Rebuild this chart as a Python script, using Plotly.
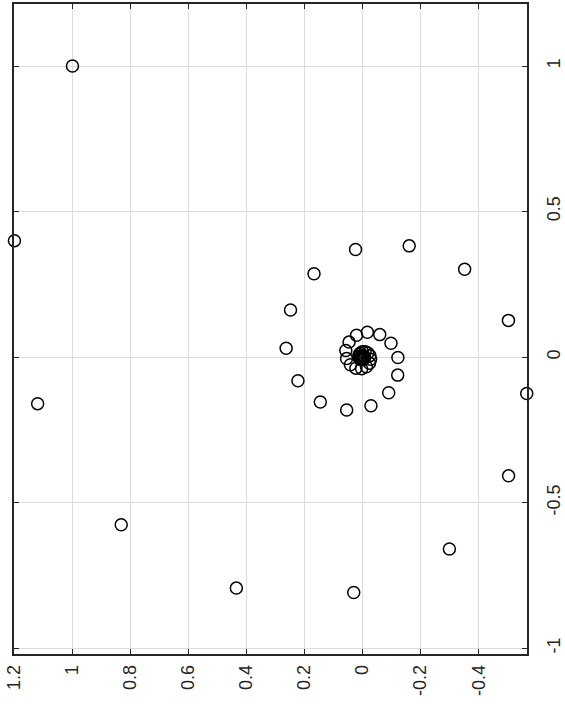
import plotly.graph_objects as go

# Points of the spiral (horizontal value, vertical value)
h_vals = [1.0, 1.2, 1.12, 0.832, 0.4352, 0.0307, -0.2990, -0.5030, -0.5656, -0.5025,
          -0.3516, -0.1605, 0.0244, 0.1675, 0.2485, 0.2636, 0.2229, 0.1458, 0.0550, -0.0287,
          -0.0899, -0.1209, -0.1215, -0.0977, -0.0591, -0.0164, 0.0210, 0.0468, 0.0580, 0.0554,
          0.0422, 0.0232, 0.0034, -0.0131, -0.0237, -0.0275, -0.0250, -0.0180, -0.0088, 0.0003,
          0.0076, 0.0118, 0.0129, 0.0111, 0.0075, 0.0031, -0.0010, -0.0041, -0.0058, -0.0060,
          -0.0049, -0.0031, -0.0010, 0.0009, 0.0022, 0.0028, 0.0027, 0.0021, 0.0012, 0.0003,
          -0.0006]
v_vals = [1.0, 0.4, -0.16, -0.576, -0.7936, -0.8090, -0.6595, -0.4080, -0.1252, 0.1261,
          0.3019, 0.3821, 0.3699, 0.2862, 0.1619, 0.0301, -0.0813, -0.1542, -0.1817, -0.1673,
          -0.1224, -0.0619, -0.0012, 0.0476, 0.0772, 0.0854, 0.0748, 0.0515, 0.0225, -0.0052,
          -0.0263, -0.0380, -0.0397, -0.0331, -0.0212, -0.0075, 0.0050, 0.0140, 0.0184, 0.0182,
          0.0144, 0.0085, 0.0021, -0.0035, -0.0072, -0.0088, -0.0083, -0.0062, -0.0033, -0.0003,
          0.0021, 0.0037, 0.0042, 0.0037, 0.0026, 0.0012, -0.0001, -0.0012, -0.0018, -0.0019,
          -0.0017]

x_ticks = [1.2, 1.0, 0.8, 0.6, 0.4, 0.2, 0.0, -0.2, -0.4]
x_tick_text = ["1.2", "1", "0.8", "0.6", "0.4", "0.2", "0", "-0.2", "-0.4"]
y_ticks = [1.0, 0.5, 0.0, -0.5, -1.0]
y_tick_text = ["1", "0.5", "0", "-0.5", "-1"]

AX = "#262626"
GRID = "#dcdcdc"
FONT = dict(family="Liberation Sans, Arial, sans-serif", size=18, color=AX)

fig = go.Figure(go.Scatter(
    x=h_vals, y=v_vals, mode="markers", cliponaxis=False,
    marker=dict(symbol="circle-open", size=12, color="black",
                line=dict(width=1.5, color="black")),
    showlegend=False, hoverinfo="skip"))

fig.update_layout(
    width=565, height=713,
    margin=dict(l=14, r=38, t=4, b=59),
    paper_bgcolor="white", plot_bgcolor="white",
    xaxis=dict(range=[1.2015, -0.5665], tickvals=x_ticks, ticktext=x_tick_text,
               tickangle=-90, ticks="inside", ticklen=5, tickcolor=AX,
               showline=True, linecolor=AX, linewidth=1.5, mirror="ticks",
               showgrid=True, gridcolor=GRID, gridwidth=1, zeroline=False,
               automargin=False, ticklabelstandoff=2, tickfont=FONT),
    yaxis=dict(range=[-1.02, 1.213], tickvals=y_ticks, ticktext=y_tick_text,
               side="right", tickangle=-90, ticks="inside", ticklen=5, tickcolor=AX,
               showline=True, linecolor=AX, linewidth=1.5, mirror="ticks",
               showgrid=True, gridcolor=GRID, gridwidth=1, zeroline=False,
               automargin=False, ticklabelstandoff=10, tickfont=FONT),
)

fig.write_html("out.html")
